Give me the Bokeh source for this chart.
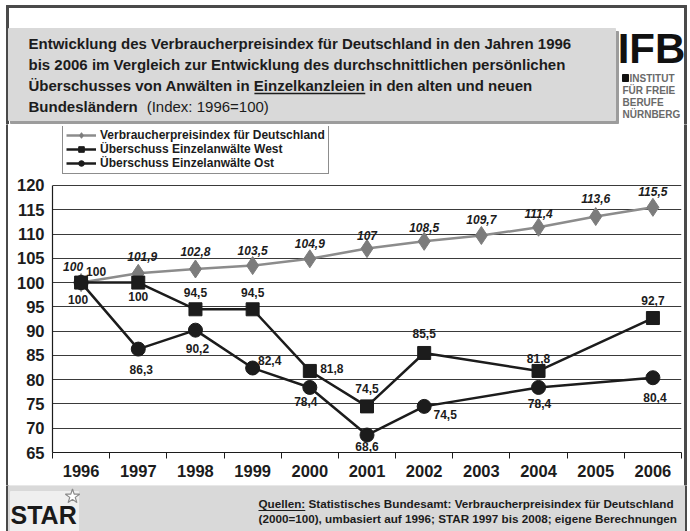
from bokeh.plotting import figure
from bokeh.models import Range1d, FixedTicker, Legend, LegendItem, ColumnDataSource
from bokeh.layouts import column, row
from bokeh.core.properties import value
from bokeh.embed import file_html
from bokeh.resources import INLINE

FONT = "Liberation Sans"

# ---------------- data ----------------
years = [1996, 1997, 1998, 1999, 2000, 2001, 2002, 2003, 2004, 2005, 2006]
year_labels = ["1996", "1997", "1998", "1999", "2000", "2001", "2002", "2003", "2004", "2005", "2006"]
cpi = [100, 101.9, 102.8, 103.5, 104.9, 107, 108.5, 109.7, 111.4, 113.6, 115.5]
west_years = [1996, 1997, 1998, 1999, 2000, 2001, 2002, 2004, 2006]
west = [100, 100, 94.5, 94.5, 81.8, 74.5, 85.5, 81.8, 92.7]
ost_years = [1996, 1997, 1998, 1999, 2000, 2001, 2002, 2004, 2006]
ost = [100, 86.3, 90.2, 82.4, 78.4, 68.6, 74.5, 78.4, 80.4]
y_ticks = [65, 70, 75, 80, 85, 90, 95, 100, 105, 110, 115, 120]
series_names = ["Verbraucherpreisindex für Deutschland",
                "Überschuss Einzelanwälte West",
                "Überschuss Einzelanwälte Ost"]
title_lines = ["Entwicklung des Verbraucherpreisindex für Deutschland in den Jahren 1996",
               "bis 2006 im Vergleich zur Entwicklung des durchschnittlichen persönlichen",
               "Überschusses von Anwälten in Einzelkanzleien in den alten und neuen",
               "Bundesländern"]
title_note = "(Index: 1996=100)"
source_lines = ["Quellen: Statistisches Bundesamt: Verbraucherpreisindex für Deutschland",
                "(2000=100), umbasiert auf 1996; STAR 1997 bis 2008; eigene Berechnungen"]
logo_lines = ["INSTITUT", "FÜR FREIE", "BERUFE", "NÜRNBERG"]

# label offsets in pixels (placement only)
cpi_dx = [-8, 4, 0, 0, 0, 0, 0, 0, 0, 0, 0]
cpi_dy = [-16, -17, -17, -15, -15, -13, -14, -16, -14, -18, -16]
west_dx = [15, 0, 0, 0, 22, 0, 0, 0, 0]
west_dy = [-11, 14, -17, -17, -2, -18, -19, -12, -18]
ost_dx = [-3, 3, 2, 17, -4, 0, 21, 1, 2]
ost_dy = [17, 20, 18, -8, 14, 11, 8, 16, 20]

W = 690
HDR_H, MAIN_H, FTR_H = 124, 361, 46
LSTRIP, RSTRIP = 8, 7
MAIN_W = W - LSTRIP - RSTRIP
DARK = "#1c1c1c"
BORDER = "#4a4a4a"
BOXGRAY = "#d9d9d9"


def fmt(v):
    return f"{v:g}".replace(".", ",")


def blank(w, h):
    f = figure(width=w, height=h, x_range=Range1d(0, w), y_range=Range1d(h, 0),
               output_backend="svg", toolbar_location=None, min_border=0,
               x_axis_type=None, y_axis_type=None, frame_align=False)
    f.outline_line_color = None
    f.border_fill_color = "white"
    f.background_fill_color = "white"
    return f


# ---------------- header ----------------
hdr = blank(W, HDR_H)
hdr.quad(left=6, right=686, top=5, bottom=7, color=BORDER)
hdr.quad(left=6, right=8, top=5, bottom=HDR_H, color=BORDER)
hdr.quad(left=684, right=686, top=5, bottom=HDR_H, color=BORDER)
hdr.quad(left=10, right=618, top=31, bottom=123, color="#9c9c9c")
hdr.quad(left=8, right=615, top=28, bottom=120, color=BOXGRAY)
tx, fs = 28, 15
line_y = [43, 64, 85, 106]
for i in range(4):
    hdr.text(x=[tx], y=[line_y[i]], text=[title_lines[i]], text_font=value(FONT),
             text_font_size=f"{fs}px", text_font_style="bold", text_color=DARK,
             text_baseline="middle", text_align="left")
hdr.text(x=[tx + 7.279 * fs + 9], y=[line_y[3]], text=[title_note], text_font=value(FONT),
         text_font_size=f"{fs}px", text_font_style="normal", text_color=DARK,
         text_baseline="middle", text_align="left")
# underline of "Einzelkanzleien"
hdr.segment(x0=[tx + 15.06 * fs], x1=[tx + 22.452 * fs], y0=[line_y[2] + 8], y1=[line_y[2] + 8],
            line_color=DARK, line_width=1.3)
# IFB logo
hdr.text(x=[651], y=[24], text=["IFB"], text_font=value(FONT), text_font_size="42px",
         text_font_style="bold", text_color="#111111", text_baseline="top", text_align="center")
hdr.quad(left=622, right=628, top=74, bottom=81, color="#111111")
for i, t in enumerate(logo_lines):
    hdr.text(x=[629 if i == 0 else 622], y=[78 + 12 * i], text=[t], text_font=value(FONT),
             text_font_size="10px", text_font_style="bold", text_color="#6a6a6a",
             text_baseline="middle", text_align="left")

# ---------------- main chart ----------------
p = figure(width=MAIN_W, height=MAIN_H, x_range=Range1d(1995.5, 2006.5), y_range=Range1d(65, 132.15),
           output_backend="svg", toolbar_location=None, frame_align=False,
           min_border_left=44, min_border_right=2, min_border_top=2, min_border_bottom=33)
p.border_fill_color = "white"
p.background_fill_color = "white"
p.outline_line_color = None

p.xaxis.ticker = FixedTicker(ticks=years, minor_ticks=[y - 0.5 for y in years] + [years[-1] + 0.5])
p.xaxis.major_label_overrides = {y: l for y, l in zip(years, year_labels)}
p.xaxis.major_tick_out = 0
p.xaxis.major_tick_in = 0
p.xaxis.minor_tick_in = 0
p.xaxis.minor_tick_out = 6
p.xaxis.minor_tick_line_color = DARK
p.xaxis.major_label_standoff = 6
p.yaxis.ticker = FixedTicker(ticks=y_ticks)
p.yaxis.bounds = (65, 120)
p.yaxis.major_tick_out = 6
p.yaxis.major_tick_in = 0
p.yaxis.minor_tick_line_color = None
p.yaxis.major_label_standoff = 2
for ax in (p.xaxis, p.yaxis):
    ax.axis_line_color = DARK
    ax.axis_line_width = 1.2
    ax.major_tick_line_color = DARK if ax is p.yaxis else None
    ax.major_label_text_font = FONT
    ax.major_label_text_font_size = "16.5px"
    ax.major_label_text_font_style = "bold"
    ax.major_label_text_color = DARK
p.xgrid.visible = False
p.ygrid.ticker = FixedTicker(ticks=y_ticks)
p.ygrid.grid_line_color = "#3a3a3a"
p.ygrid.grid_line_width = 1.2

l1 = p.line(years, cpi, line_color="#8c8c8c", line_width=2.5)
s1 = p.scatter(years, cpi, marker="diamond", size=18, fill_color="#7c7c7c", line_color="#7c7c7c")
l2 = p.line(west_years, west, line_color=DARK, line_width=2.5)
s2 = p.scatter(west_years, west, marker="square", size=13, fill_color=DARK, line_color=DARK)
l3 = p.line(ost_years, ost, line_color=DARK, line_width=2.5)
s3 = p.scatter(ost_years, ost, marker="circle", size=14, fill_color=DARK, line_color=DARK)

label_specs = [
    (years, cpi, cpi_dx, cpi_dy, "bold italic"),
    (west_years, west, west_dx, west_dy, "bold"),
    (ost_years, ost, ost_dx, ost_dy, "bold"),
]
for xs, ys, dxs, dys, style in label_specs:
    src = ColumnDataSource(dict(x=xs, y=ys, t=[fmt(v) for v in ys], dx=dxs, dy=dys))
    p.text(x="x", y="y", text="t", x_offset="dx", y_offset="dy", source=src,
           text_align="center", text_baseline="middle", text_font=value(FONT),
           text_font_size="12px", text_font_style=style, text_color=DARK)

legend = Legend(items=[LegendItem(label=series_names[0], renderers=[l1, s1]),
                       LegendItem(label=series_names[1], renderers=[l2, s2]),
                       LegendItem(label=series_names[2], renderers=[l3, s3])],
                location=(10, 278), orientation="vertical")
legend.margin = 0
legend.padding = 3
legend.spacing = 0
legend.glyph_width = 30
legend.glyph_height = 14
legend.label_height = 14
legend.label_standoff = 4
legend.label_text_font = FONT
legend.label_text_font_size = "12px"
legend.label_text_font_style = "bold"
legend.label_text_color = DARK
legend.border_line_color = DARK
legend.border_line_width = 1
legend.background_fill_color = "white"
legend.background_fill_alpha = 1
p.add_layout(legend)

lstrip = blank(LSTRIP, MAIN_H)
lstrip.quad(left=6, right=8, top=0, bottom=MAIN_H, color=BORDER)
rstrip = blank(RSTRIP, MAIN_H)
rstrip.quad(left=1, right=3, top=0, bottom=MAIN_H, color=BORDER)

# ---------------- footer ----------------
ftr = blank(W, FTR_H)
ftr.quad(left=6, right=8, top=0, bottom=FTR_H, color=BORDER)
ftr.quad(left=684, right=686, top=0, bottom=FTR_H, color=BORDER)
ftr.quad(left=8, right=684, top=0, bottom=FTR_H, color=BOXGRAY)
ftr.quad(left=10, right=78, top=6, bottom=FTR_H, color="#efefef")
ftr.text(x=[10], y=[29], text=["STAR"], text_font=value(FONT), text_font_size="25px",
         text_font_style="bold", text_color="#1a1a1a", text_baseline="middle", text_align="left")
ftr.scatter(x=[72], y=[11], marker="star", size=15, fill_color="white", line_color="#8a8a8a",
            line_width=1.2)
sx, sfs = 258, 11.7
for i, t in enumerate(source_lines):
    ftr.text(x=[sx], y=[18 + 15 * i], text=[t], text_font=value(FONT), text_font_size=f"{sfs}px",
             text_font_style="bold", text_color=DARK, text_baseline="middle", text_align="left")
ftr.segment(x0=[sx], x1=[sx + 4.001 * sfs], y0=[25], y1=[25], line_color=DARK, line_width=1)

layout = column(hdr, row(lstrip, p, rstrip, spacing=0), ftr, spacing=0)

open("out.html", "w").write(file_html(layout, INLINE))
